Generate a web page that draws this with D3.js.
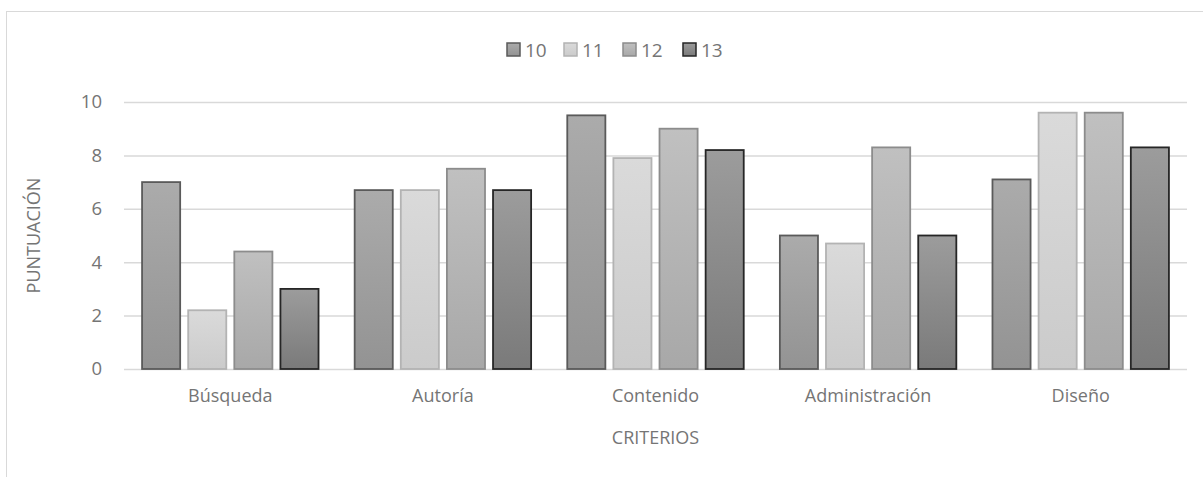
<!DOCTYPE html>
<html>
  <head>
    <meta charset="utf-8">
    <title>Puntuación por criterios</title>
    <script src="https://d3js.org/d3.v7.min.js"></script>
    <style>
      body { margin: 0; background: #fff; }
      svg text { font-family: "Open Sans", "Noto Sans", sans-serif; fill: #757575; }
      .grid line { stroke: #d9d9d9; stroke-width: 1.5; }
      .grid text { font-size: 18.5px; }
      .xaxis text { font-size: 18px; }
    </style>
  </head>
  <body>
    <svg width="1203" height="477"></svg>
    <script>
      // data
      var categories = ["Búsqueda", "Autoría", "Contenido", "Administración", "Diseño"];
      var seriesNames = ["10", "11", "12", "13"];
      var s10 = [7.0, 6.7, 9.5, 5.0, 7.1];
      var s11 = [2.2, 6.7, 7.9, 4.7, 9.6];
      var s12 = [4.4, 7.5, 9.0, 8.3, 9.6];
      var s13 = [3.0, 6.7, 8.2, 5.0, 8.3];
      var yTicks = [0, 2, 4, 6, 8, 10];

      var seriesValues = [s10, s11, s12, s13];
      var fillTop = ["#ababab", "#dadada", "#c0c0c0", "#9c9c9c"];
      var fillBottom = ["#939393", "#cbcbcb", "#a8a8a8", "#7a7a7a"];
      var strokes = ["#5a5a5a", "#b3b3b3", "#8c8c8c", "#262626"];

      var svg = d3.select("svg");

      // outer chart border
      svg.append("rect")
        .attr("x", 6.5).attr("y", 11.5)
        .attr("width", 1210).attr("height", 480)
        .attr("fill", "none").attr("stroke", "#d9d9d9");

      var margin = { top: 102, left: 124, right: 16, bottom: 108 };
      var width = 1203 - margin.left - margin.right,
        height = 477 - margin.top - margin.bottom;

      var g = svg.append("g")
        .attr("transform", "translate(" + margin.left + "," + margin.top + ")");

      var x0 = d3.scaleBand().domain(categories).range([0, width]).padding(0);
      var inset = x0.bandwidth() * 0.085;
      var x1 = d3.scaleBand().domain(seriesNames)
        .range([inset, x0.bandwidth() - inset])
        .paddingInner(0.174).paddingOuter(0);
      var y = d3.scaleLinear().domain([0, 10]).range([height, 0]);

      // gradients
      var defs = svg.append("defs");
      seriesNames.forEach(function (s, i) {
        var lg = defs.append("linearGradient")
          .attr("id", "grad" + i)
          .attr("x1", 0).attr("y1", 0).attr("x2", 0).attr("y2", 1);
        lg.append("stop").attr("offset", "0%").attr("stop-color", fillTop[i]);
        lg.append("stop").attr("offset", "100%").attr("stop-color", fillBottom[i]);
      });

      // gridlines + y labels
      var yAxis = g.append("g").attr("class", "grid")
        .call(d3.axisLeft(y).tickValues(yTicks).tickSize(-width).tickPadding(22)
          .tickFormat(d3.format("d")));
      yAxis.select(".domain").remove();

      // x labels
      var xAxis = g.append("g").attr("class", "xaxis")
        .attr("transform", "translate(0," + height + ")")
        .call(d3.axisBottom(x0).tickSize(0).tickPadding(20));
      xAxis.select(".domain").remove();

      // bars
      var rows = categories.map(function (c, ci) {
        return { cat: c, vals: seriesValues.map(function (v, si) { return { s: si, v: v[ci] }; }) };
      });
      g.selectAll("g.cat")
        .data(rows)
        .enter().append("g")
        .attr("class", "cat")
        .attr("transform", function (d) { return "translate(" + x0(d.cat) + ",0)"; })
        .selectAll("rect")
        .data(function (d) { return d.vals; })
        .enter().append("rect")
        .attr("x", function (d) { return x1(seriesNames[d.s]); })
        .attr("y", function (d) { return y(d.v); })
        .attr("width", x1.bandwidth())
        .attr("height", function (d) { return y(0) - y(d.v); })
        .attr("fill", function (d) { return "url(#grad" + d.s + ")"; })
        .attr("stroke", function (d) { return strokes[d.s]; })
        .attr("stroke-width", 1.8);

      // axis titles
      svg.append("text")
        .attr("x", margin.left + width / 2).attr("y", 444)
        .attr("text-anchor", "middle").style("font-size", "18px")
        .text("CRITERIOS");
      svg.append("text")
        .attr("transform", "translate(40," + (margin.top + height / 2) + ") rotate(-90)")
        .attr("text-anchor", "middle").style("font-size", "18px")
        .text("PUNTUACIÓN");

      // legend
      var legendX = [507, 564, 623, 683];
      var legend = svg.append("g").selectAll("g")
        .data(seriesNames).enter().append("g")
        .attr("transform", function (d, i) { return "translate(" + legendX[i] + ",43)"; });
      legend.append("rect")
        .attr("width", 13).attr("height", 13)
        .attr("fill", function (d, i) { return "url(#grad" + i + ")"; })
        .attr("stroke", function (d, i) { return strokes[i]; })
        .attr("stroke-width", 1.5);
      legend.append("text")
        .attr("x", 18).attr("y", 13.5)
        .style("font-size", "19px")
        .text(function (d) { return d; });
    </script>
  </body>
</html>
